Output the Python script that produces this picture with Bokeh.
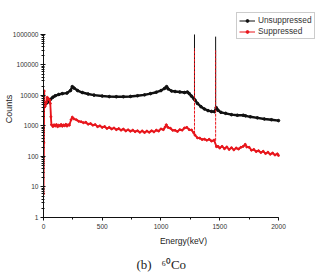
from bokeh.plotting import figure
from bokeh.models import (Range1d, LogTicker, SingleIntervalTicker, PrintfTickFormatter,
                          Legend, LegendItem, Title)
from bokeh.embed import file_html
from bokeh.resources import INLINE

# 60Co spectrum, continuum read in keV / counts
unsup_energy = [0, 10, 25, 40, 60, 80, 100, 130, 160, 200, 230, 245, 260, 290, 330, 380,
                430, 500, 560, 620, 680, 740, 800, 860, 910, 960, 1000, 1030, 1048, 1060,
                1090, 1120, 1160, 1200, 1225, 1240, 1260, 1278, 1290, 1310, 1340, 1370,
                1400, 1430, 1455, 1470, 1485, 1510, 1550, 1600, 1650, 1700, 1720, 1760,
                1820, 1880, 1940, 2000]
unsup_counts = [5000, 5200, 5600, 6200, 7500, 8800, 9800, 10800, 11500, 12000, 14500, 19500,
                17500, 14500, 12500, 11200, 10300, 9600, 9200, 9100, 9100, 9300, 9800, 10500,
                11500, 12800, 14500, 17000, 19500, 16500, 14000, 13500, 13000, 12500, 13000,
                11500, 9500, 8000, 7000, 5500, 4300, 3600, 3200, 3000, 2950, 4000, 3300,
                2800, 2600, 2350, 2250, 2250, 2150, 2000, 1850, 1700, 1600, 1500]

sup_energy = [0, 3, 6, 10, 15, 25, 32, 40, 52, 58, 63, 68, 80, 90, 100, 110, 120, 130, 140,
              150, 160, 170, 180, 190, 200, 210, 220, 235, 245, 260, 280, 300, 320, 340, 360,
              380, 400, 420, 440, 460, 480, 500, 520, 540, 560, 580, 600, 620, 640, 660, 680,
              700, 720, 740, 760, 780, 800, 820, 840, 860, 880, 900, 920, 940, 960, 980,
              1000, 1020, 1035, 1045, 1060, 1080, 1100, 1120, 1140, 1160, 1180, 1200, 1220,
              1240, 1260, 1278, 1290, 1310, 1330, 1350, 1370, 1390, 1410, 1430, 1452, 1472,
              1485, 1500, 1520, 1540, 1560, 1580, 1600, 1620, 1640, 1660, 1680, 1700, 1717,
              1730, 1750, 1770, 1790, 1810, 1830, 1850, 1870, 1890, 1910, 1930, 1950, 1970,
              1990, 2000]
sup_counts = [6, 280, 14000, 4200, 4500, 6000, 8700, 8000, 7000, 5500, 2000, 1100, 960, 1090,
              1000, 1110, 950, 1060, 1000, 1120, 980, 1080, 1020, 1130, 990, 1100, 1060, 1600,
              1950, 1700, 1600, 1420, 1380, 1280, 1320, 1140, 1200, 1060, 1110, 950, 1010,
              900, 960, 830, 900, 800, 860, 760, 820, 730, 790, 690, 750, 670, 730, 650, 700,
              620, 690, 610, 680, 620, 700, 640, 730, 680, 800, 760, 920, 1100, 900, 840, 720,
              720, 660, 760, 730, 860, 900, 760, 740, 600, 500, 410, 400, 360, 370, 340, 365,
              320, 345, 210, 215, 190, 215, 180, 205, 170, 195, 165, 190, 175, 200, 215, 250,
              205, 200, 160, 170, 145, 155, 135, 148, 125, 138, 118, 130, 112, 122, 108]

# full-energy photopeaks
peak_energy = [1285, 1465]
unsup_peak_base = [7500, 3000]
unsup_peak_top = [1.0e6, 8.5e5]
sup_peak_base = [560, 330]
sup_peak_top = [3.5e5, 3.0e5]

BLACK = "#111111"
RED = "#e8161c"
SANS = "Liberation Sans"

# frame runs to the right and top canvas edges; axes are bounded to 0-2000 keV and 1-1e6
p = figure(width=323, height=278, x_range=Range1d(0, 2383), y_range=Range1d(1, 1.3e7),
           y_axis_type="log", output_backend="svg", toolbar_location=None,
           min_border_left=43, min_border_right=0, min_border_top=0, min_border_bottom=61)
p.outline_line_color = None
p.xgrid.visible = False
p.ygrid.visible = False
p.background_fill_color = "white"
p.border_fill_color = "white"

# black series: thick trace, thin line-and-symbol overlay
p.segment(x0=peak_energy, y0=unsup_peak_base, x1=peak_energy, y1=unsup_peak_top,
          line_color=BLACK, line_width=1)
p.line(unsup_energy, unsup_counts, line_color=BLACK, line_width=2.4)
u_thin = p.line(unsup_energy, unsup_counts, line_color=BLACK, line_width=1)
u_dots = p.scatter(unsup_energy, unsup_counts, size=2.6, color=BLACK)

# red series on top
p.segment(x0=peak_energy, y0=sup_peak_base, x1=peak_energy, y1=sup_peak_top,
          line_color=RED, line_width=1, line_dash="3 1")
p.line(sup_energy, sup_counts, line_color=RED, line_width=1.8)
s_thin = p.line(sup_energy, sup_counts, line_color=RED, line_width=1)
s_dots = p.scatter(sup_energy, sup_counts, size=2, color=RED)

# axes
xa = p.xaxis[0]
xa.ticker = SingleIntervalTicker(interval=500, num_minor_ticks=2)
xa.bounds = (0, 2000)
xa.axis_label = "Energy(keV)"
ya = p.yaxis[0]
ya.ticker = LogTicker(num_minor_ticks=10)
ya.formatter = PrintfTickFormatter(format="%d")
ya.bounds = (1, 1e6)
ya.axis_label = "Counts"

for ax in (xa, ya):
    ax.axis_line_color = BLACK
    ax.axis_line_width = 1
    ax.major_tick_line_color = BLACK
    ax.minor_tick_line_color = BLACK
    ax.major_label_text_font = SANS
    ax.major_label_text_font_size = "6.6px"
    ax.major_label_text_color = "#333333"
    ax.axis_label_text_font = SANS
    ax.axis_label_text_font_style = "normal"
    ax.axis_label_text_color = "#222222"

xa.major_tick_in = 0
xa.major_tick_out = 3
xa.minor_tick_in = 0
xa.minor_tick_out = 2
xa.major_label_standoff = 3
xa.axis_label_text_font_size = "8.5px"
xa.axis_label_standoff = 4

ya.major_tick_in = 2
ya.major_tick_out = 3
ya.minor_tick_in = 1
ya.minor_tick_out = 2
ya.major_label_standoff = 2
ya.axis_label_text_font_size = "9px"
ya.axis_label_standoff = -4

legend = Legend(items=[LegendItem(label="Unsuppressed", renderers=[u_thin, u_dots]),
                       LegendItem(label="Suppressed", renderers=[s_thin, s_dots])],
                location=(193, 178))
legend.label_text_font = SANS
legend.label_text_font_size = "8.3px"
legend.label_text_color = "#333333"
legend.label_height = 9
legend.glyph_height = 7
legend.glyph_width = 16
legend.label_standoff = 3
legend.padding = 2
legend.spacing = 1
legend.margin = 0
legend.border_line_color = "#999999"
legend.border_line_width = 1
legend.background_fill_alpha = 1
p.add_layout(legend, "center")

# caption under the plot
caption = Title(text="(b)\u00a0\u00a0\u00a0\u2076\u2070Co", align="left", offset=93,
                standoff=12, text_font="Liberation Serif", text_font_size="13px",
                text_font_style="normal", text_color="#222222")
p.add_layout(caption, "below")

open("out.html", "w").write(file_html(p, INLINE))
